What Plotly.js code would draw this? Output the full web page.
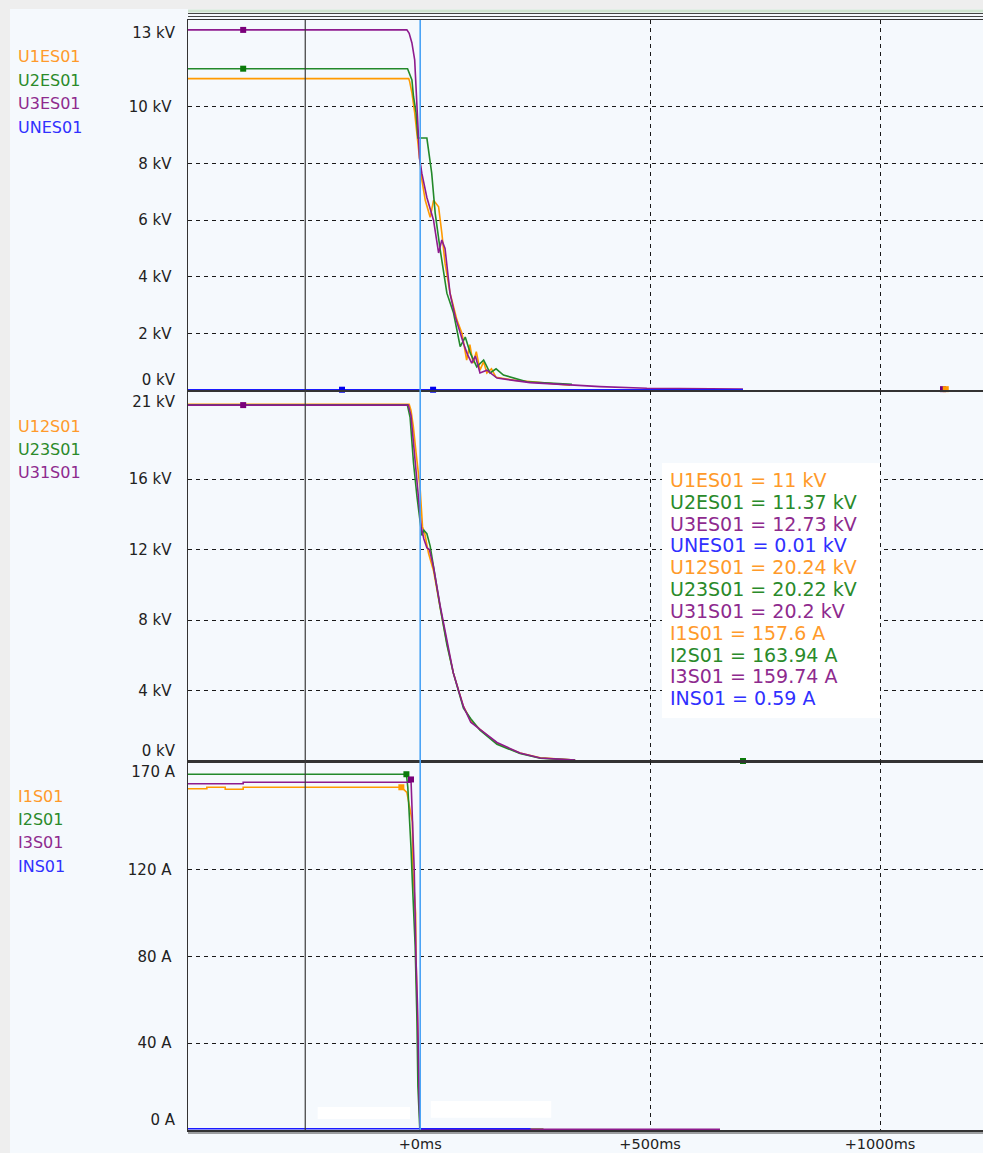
<!DOCTYPE html>
<html><head><meta charset="utf-8">
<script src="https://cdn.plot.ly/plotly-3.0.1.min.js"></script>
<style>html,body{margin:0;padding:0;background:#efefef;overflow:hidden}#chart{width:983px;height:1153px}</style>
</head><body><div id="chart"></div>
<script>
// ================= DATA =================
const xTickVals = [0, 500, 1000];
const xTickText = ['+0ms', '+500ms', '+1000ms'];
const xRange = [-505, 1224];

// panel 1 : phase-to-earth voltages (kV)
const p1Range = [0, 13.07];
const p1TickVals = [2, 4, 6, 8, 10];
const p1TickText = ['2 kV', '4 kV', '6 kV', '8 kV', '10 kV'];
const p1EdgeVals = [0, 13];
const p1EdgeText = ['0 kV', '13 kV'];

const u1esT = [-505, -25, -23, -18, -12, -7, -1.5, 3.6, 11, 21.7, 29, 40, 47, 54, 65, 80, 91, 101, 108, 115, 122, 130, 138, 145, 155, 165, 203, 275, 326];
const u1esV = [11.0, 11.0, 10.9, 10.5, 9.8, 9.08, 8.37, 7.42, 6.7, 6.1, 6.7, 6.47, 5.55, 4.48, 3.42, 2.47, 2.0, 1.06, 1.6, 0.95, 1.35, 0.7, 1.0, 0.6, 0.75, 0.45, 0.35, 0.24, 0.17];

const u2esT = [-505, -27.5, -18, -14.5, -9, -5, 14.5, 21.7, 25, 32.6, 43.5, 58, 72.5, 87, 98, 109, 123, 138, 152, 165, 181, 232, 275, 330];
const u2esV = [11.35, 11.35, 10.95, 10.36, 9.8, 8.9, 8.9, 8.0, 7.66, 6.25, 4.95, 3.42, 2.72, 1.53, 1.87, 1.3, 0.82, 1.06, 0.6, 0.75, 0.53, 0.29, 0.26, 0.2];

const u3esT = [-505, -29, -24, -18, -12, -7, -1.5, 3.6, 14.5, 29, 40, 47, 54, 65, 76, 94, 103, 112, 120, 130, 145, 167, 239, 326, 391, 493, 702];
const u3esV = [12.72, 12.72, 12.6, 12.26, 11.66, 9.9, 8.2, 7.65, 6.8, 6.0, 4.84, 5.3, 5.0, 3.4, 2.6, 1.65, 1.25, 0.95, 1.2, 0.6, 0.7, 0.42, 0.26, 0.18, 0.12, 0.06, 0.03];

const unesT = [-505, 702];
const unesV = [0.01, 0.01];

const p1MarkT = [-385, -385, -170, 28, 1137, 1143];
const p1MarkV = [12.72, 11.35, 0.01, 0.01, 0.03, 0.03];
const p1MarkSeries = ['U3ES01', 'U2ES01', 'UNES01', 'UNES01', 'U3ES01', 'U1ES01'];

// panel 2 : line-to-line voltages (kV)
const p2Range = [0, 21];
const p2TickVals = [4, 8, 12, 16];
const p2TickText = ['4 kV', '8 kV', '12 kV', '16 kV'];
const p2EdgeVals = [0, 21];
const p2EdgeText = ['0 kV', '21 kV'];

const u12T = [-505, -24, -20, -15, -9, -4, 0, 5, 10, 18, 29, 43.5, 58, 72, 94, 110, 130, 167, 217, 261, 337];
const u12V = [20.24, 20.24, 19.9, 19.0, 17.5, 16.3, 15.4, 13.3, 12.9, 11.8, 10.8, 8.7, 6.7, 5.0, 3.1, 2.3, 1.8, 1.0, 0.45, 0.18, 0.05];

const u23T = [-505, -28, -22, -14.5, -7, 0, 3.6, 8, 14.5, 21.7, 29, 43.5, 58, 72, 94, 110, 130, 167, 217, 261, 337];
const u23V = [20.22, 20.22, 19.5, 16.9, 15.0, 13.3, 12.8, 13.1, 12.9, 12.2, 11.0, 8.7, 6.6, 5.0, 3.0, 2.4, 1.75, 0.95, 0.42, 0.16, 0.05];

const u31T = [-505, -26, -20, -14, -8, -3, 2, 8, 14.5, 20, 29, 43.5, 58, 72, 94, 110, 130, 167, 217, 261, 337];
const u31V = [20.2, 20.2, 19.6, 18.0, 16.2, 14.8, 13.3, 12.6, 12.1, 12.0, 11.0, 8.8, 6.8, 5.0, 3.1, 2.2, 1.8, 1.05, 0.45, 0.17, 0.05];

const p2MarkT = [-385, 702];
const p2MarkV = [20.2, 0];
const p2MarkSeries = ['U31S01', 'U23S01'];

// panel 3 : currents (A)
const p3Range = [0, 170];
const p3TickVals = [40, 80, 120];
const p3TickText = ['40 A', '80 A', '120 A'];
const p3EdgeVals = [0, 170];
const p3EdgeText = ['0 A', '170 A'];

const i1T = [-505, -464, -464, -424, -424, -385, -385, -41, -29, -17, -16, -10, -9, -5, -2, 0, 268];
const i1V = [157.2, 157.2, 157.9, 157.9, 157.0, 157.0, 157.9, 157.9, 155.5, 142, 120, 100, 78, 40, 5, 0.3, 0.3];

const i2T = [-505, -30, -27, -24, -20, -17, -11, -7, -5, -1, 0, 268];
const i2V = [163.9, 163.9, 158, 148, 130, 114, 85, 50, 20, 1, 0.3, 0.3];

const i3T = [-505, -385, -385, -22, -20, -17, -13, -9, -6, -2, 0, 652];
const i3V = [159.5, 159.5, 160.2, 160.2, 161.5, 146, 120, 78, 58, 12, 0.3, 0.3];

const inT = [-505, 240];
const inV = [0.59, 0.59];

const p3MarkT = [-41, -30, -20];
const p3MarkV = [157.9, 163.9, 161.5];
const p3MarkSeries = ['I1S01', 'I2S01', 'I3S01'];

// cursor read-out
const readNames = ['U1ES01', 'U2ES01', 'U3ES01', 'UNES01', 'U12S01', 'U23S01', 'U31S01', 'I1S01', 'I2S01', 'I3S01', 'INS01'];
const readValues = ['11', '11.37', '12.73', '0.01', '20.24', '20.22', '20.2', '157.6', '163.94', '159.74', '0.59'];
const readUnits = ['kV', 'kV', 'kV', 'kV', 'kV', 'kV', 'kV', 'A', 'A', 'A', 'A'];

const cursorT = 0;
const secondCursorT = -250;

// ================= STYLE =================
const FONT = 'DejaVu Sans, Verdana, sans-serif';
const lineCol = {orange: '#ff9a00', green: '#23892a', purple: '#8e1b8e', blue: '#1a1aff'};
const markCol = {orange: '#ff9a00', green: '#0a7a0a', purple: '#7a007a', blue: '#0000ee'};
const textCol = {orange: '#ff9a2a', green: '#2a8a2a', purple: '#8e2a8e', blue: '#3030ff'};
const phaseOf = {
  U1ES01: 'orange', U2ES01: 'green', U3ES01: 'purple', UNES01: 'blue',
  U12S01: 'orange', U23S01: 'green', U31S01: 'purple',
  I1S01: 'orange', I2S01: 'green', I3S01: 'purple', INS01: 'blue'
};

const W = 983, H = 1153, ML = 188, MR = 0, MT = 20, MB = 23;
const PW = W - ML - MR, PH = H - MT - MB;
const px2x = px => (px - ML) / PW;
const px2y = py => (H - MB - py) / PH;

function line(name, t, v, ax) {
  return {type: 'scatter', mode: 'lines', name, x: t, y: v, yaxis: ax, xaxis: 'x',
    line: {color: lineCol[phaseOf[name]], width: 1.6}, hoverinfo: 'skip', showlegend: false};
}
function marks(t, v, series, ax) {
  return {type: 'scatter', mode: 'markers', x: t, y: v, yaxis: ax, xaxis: 'x',
    marker: {symbol: 'square', size: 6, color: series.map(s => markCol[phaseOf[s]])},
    hoverinfo: 'skip', showlegend: false, cliponaxis: false};
}
// invisible carrier so that a label-only overlay axis gets drawn
function carrier(ax, v) {
  return {type: 'scatter', mode: 'markers', x: [cursorT], y: [v], yaxis: ax, xaxis: 'x',
    marker: {opacity: 0, size: 1}, hoverinfo: 'skip', showlegend: false};
}

const traces = [
  line('U1ES01', u1esT, u1esV, 'y'),
  line('U2ES01', u2esT, u2esV, 'y'),
  line('U3ES01', u3esT, u3esV, 'y'),
  line('UNES01', unesT, unesV, 'y'),
  marks(p1MarkT, p1MarkV, p1MarkSeries, 'y'),
  line('U12S01', u12T, u12V, 'y2'),
  line('U23S01', u23T, u23V, 'y2'),
  line('U31S01', u31T, u31V, 'y2'),
  marks(p2MarkT, p2MarkV, p2MarkSeries, 'y2'),
  line('I1S01', i1T, i1V, 'y3'),
  line('I2S01', i2T, i2V, 'y3'),
  line('I3S01', i3T, i3V, 'y3'),
  line('INS01', inT, inV, 'y3'),
  marks(p3MarkT, p3MarkV, p3MarkSeries, 'y3'),
  carrier('y4', p1EdgeVals[0]), carrier('y5', p1EdgeVals[1]),
  carrier('y6', p2EdgeVals[0]), carrier('y7', p2EdgeVals[1]),
  carrier('y8', p3EdgeVals[0]), carrier('y9', p3EdgeVals[1])
];

const tickFont = {family: FONT, size: 15, color: '#222'};
const gridStyle = {showgrid: true, gridcolor: '#1a1a1a', gridwidth: 1, griddash: '4px,4px'};

function mainY(domain, range, vals, text) {
  return Object.assign({domain, range, tickvals: vals, ticktext: text, tickfont: tickFont,
    zeroline: false, showline: true, linecolor: '#333', linewidth: 1.5, ticks: '',
    ticklabelstandoff: 12, fixedrange: true, anchor: 'x'}, gridStyle);
}
function edgeY(base, range, val, text, pos) {
  return {overlaying: base, range, tickvals: [val], ticktext: [text], tickfont: tickFont,
    ticklabelposition: pos, showgrid: false, zeroline: false, showline: false, ticks: '',
    ticklabelstandoff: 12, fixedrange: true, anchor: 'x', side: 'left'};
}

const d1 = [px2y(390), 1], d2 = [px2y(761), px2y(391)], d3 = [0, px2y(761)];

const layout = {
  width: W, height: H,
  margin: {l: ML, r: MR, t: MT, b: MB, pad: 0},
  paper_bgcolor: '#eeeeee',
  plot_bgcolor: '#f3f8fd',
  font: {family: FONT},
  showlegend: false,
  xaxis: Object.assign({range: xRange, tickvals: xTickVals, ticktext: xTickText,
    tickfont: {family: FONT, size: 14.5, color: '#222'},
    zeroline: false, showline: true, linecolor: '#333', linewidth: 1.5, mirror: 'all', ticks: '',
    ticklabelstandoff: 0, anchor: 'y3', fixedrange: true}, gridStyle),
  yaxis: mainY(d1, p1Range, p1TickVals, p1TickText),
  yaxis2: mainY(d2, p2Range, p2TickVals, p2TickText),
  yaxis3: mainY(d3, p3Range, p3TickVals, p3TickText),
  yaxis4: edgeY('y', p1Range, p1EdgeVals[0], p1EdgeText[0], 'outside top'),
  yaxis5: edgeY('y', p1Range, p1EdgeVals[1], p1EdgeText[1], 'outside bottom'),
  yaxis6: edgeY('y2', p2Range, p2EdgeVals[0], p2EdgeText[0], 'outside top'),
  yaxis7: edgeY('y2', p2Range, p2EdgeVals[1], p2EdgeText[1], 'outside bottom'),
  yaxis8: edgeY('y3', p3Range, p3EdgeVals[0], p3EdgeText[0], 'outside top'),
  yaxis9: edgeY('y3', p3Range, p3EdgeVals[1], p3EdgeText[1], 'outside bottom'),
  shapes: [
    {type: 'rect', xref: 'paper', yref: 'paper', x0: px2x(10), x1: 1, y0: px2y(H), y1: px2y(9),
      fillcolor: '#f5f9fd', line: {width: 0}, layer: 'below'},
    {type: 'rect', xref: 'paper', yref: 'paper', x0: 0, x1: 1, y0: px2y(12.5), y1: px2y(9.5),
      fillcolor: '#cfe3cf', line: {width: 0}, layer: 'above'},
    {type: 'line', xref: 'paper', yref: 'paper', x0: 0, x1: 1, y0: px2y(13.5), y1: px2y(13.5),
      line: {color: '#444', width: 1.2}},
    {type: 'line', xref: 'paper', yref: 'paper', x0: 0, x1: 1, y0: px2y(16.5), y1: px2y(16.5),
      line: {color: '#444', width: 1.2}},
    {type: 'line', xref: 'paper', yref: 'paper', x0: 0, x1: 1, y0: px2y(1133), y1: px2y(1133),
      line: {color: '#444', width: 1.2}},
    {type: 'line', xref: 'x', yref: 'paper', x0: secondCursorT, x1: secondCursorT, y0: 0, y1: 1,
      line: {color: '#3a3a3a', width: 1.2}, layer: 'above'},
    {type: 'line', xref: 'x', yref: 'paper', x0: cursorT, x1: cursorT, y0: 0, y1: 1,
      line: {color: '#4aa3f5', width: 1.6}, layer: 'above'},
    {type: 'rect', xref: 'x', yref: 'y3', x0: -223, x1: -22, y0: 5.1, y1: 10.6,
      fillcolor: '#ffffff', line: {width: 0}, layer: 'above'},
    {type: 'rect', xref: 'x', yref: 'y3', x0: 23, x1: 285, y0: 5.7, y1: 13.4,
      fillcolor: '#ffffff', line: {width: 0}, layer: 'above'},
    {type: 'rect', xref: 'paper', yref: 'paper', x0: px2x(662), x1: px2x(880), y0: px2y(718), y1: px2y(463),
      fillcolor: '#ffffff', line: {width: 0}, layer: 'above'}
  ],
  annotations: []
};

const leftGroups = [
  {names: ['U1ES01', 'U2ES01', 'U3ES01', 'UNES01'], top: 57},
  {names: ['U12S01', 'U23S01', 'U31S01'], top: 426},
  {names: ['I1S01', 'I2S01', 'I3S01', 'INS01'], top: 796}
];
leftGroups.forEach(g => g.names.forEach((n, i) => {
  layout.annotations.push({xref: 'paper', yref: 'paper', x: px2x(16), y: px2y(g.top + i * 23.4),
    xanchor: 'left', yanchor: 'middle', showarrow: false, text: n,
    font: {family: FONT, size: 16, color: textCol[phaseOf[n]]}});
}));

readNames.forEach((n, i) => {
  layout.annotations.push({xref: 'paper', yref: 'paper', x: px2x(668), y: px2y(480 + i * 21.83),
    xanchor: 'left', yanchor: 'middle', showarrow: false,
    text: n + ' = ' + readValues[i] + ' ' + readUnits[i],
    font: {family: FONT, size: 19, color: textCol[phaseOf[n]]}});
});

Plotly.newPlot('chart', traces, layout, {staticPlot: true, displayModeBar: false});
</script>
</body></html>
